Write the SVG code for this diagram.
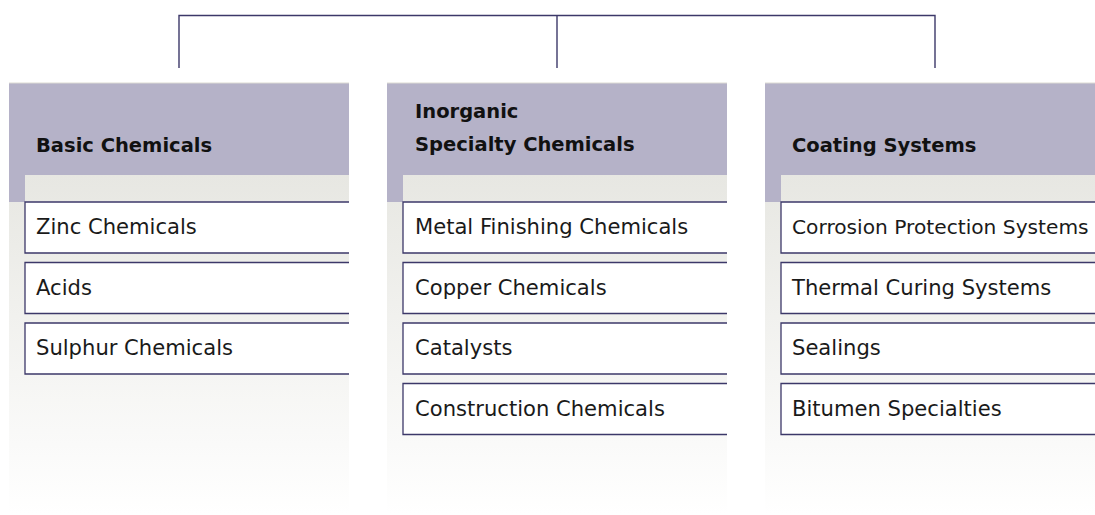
<svg xmlns="http://www.w3.org/2000/svg" width="1095" height="515" viewBox="0 0 1095 515">
<defs>
<linearGradient id="bg" gradientUnits="userSpaceOnUse" x1="0" y1="175" x2="0" y2="515">
<stop offset="0" stop-color="#e7e7e2"/>
<stop offset="1" stop-color="#ffffff"/>
</linearGradient>
<style>
.hdr{fill:#b5b2c8}
.col{fill:url(#bg)}
.box{fill:#ffffff}
.bd{fill:none;stroke:#3c3869;stroke-width:1.3}
.conn{fill:none;stroke:#3c3869;stroke-width:1.4}
.ht{font-family:"DejaVu Sans",sans-serif;font-weight:bold;font-size:19.5px;fill:#111}
.it{font-family:"DejaVu Sans",sans-serif;font-size:21.1px;fill:#1a1a1a}
.fit{font-size:20.2px}
.topline{stroke:#dcdad3;stroke-width:1}
</style>
</defs>
<rect width="1095" height="515" fill="#ffffff"/>
<g id="connectors">
<path class="conn" d="M179,68 V15.5 H935 V68"/>
<path class="conn" d="M557,15.5 V68"/>
</g>
<g id="col1">
<rect class="col" x="9" y="175" width="340" height="340"/>
<rect class="hdr" x="9" y="83" width="340" height="92"/>
<rect class="hdr" x="9" y="175" width="16" height="27"/>
<line class="topline" x1="9" y1="83" x2="349" y2="83"/>
<text class="ht" x="36" y="152">Basic Chemicals</text>
<g id="c1i1"><rect class="box" x="25" y="202" width="324" height="51"/><path class="bd" d="M349,202 H25 V253 H349"/><text class="it" x="36" y="234">Zinc Chemicals</text></g>
<g id="c1i2"><rect class="box" x="25" y="262.5" width="324" height="51"/><path class="bd" d="M349,262.5 H25 V313.5 H349"/><text class="it" x="36" y="294.5">Acids</text></g>
<g id="c1i3"><rect class="box" x="25" y="323" width="324" height="51"/><path class="bd" d="M349,323 H25 V374 H349"/><text class="it" x="36" y="355">Sulphur Chemicals</text></g>
</g>
<g id="col2">
<rect class="col" x="387" y="175" width="340" height="340"/>
<rect class="hdr" x="387" y="83" width="340" height="92"/>
<rect class="hdr" x="387" y="175" width="16" height="27"/>
<line class="topline" x1="387" y1="83" x2="727" y2="83"/>
<text class="ht" x="415" y="118">Inorganic</text>
<text class="ht" x="415" y="151">Specialty Chemicals</text>
<g id="c2i1"><rect class="box" x="403" y="202" width="324" height="51"/><path class="bd" d="M727,202 H403 V253 H727"/><text class="it" x="415" y="234">Metal Finishing Chemicals</text></g>
<g id="c2i2"><rect class="box" x="403" y="262.5" width="324" height="51"/><path class="bd" d="M727,262.5 H403 V313.5 H727"/><text class="it" x="415" y="294.5">Copper Chemicals</text></g>
<g id="c2i3"><rect class="box" x="403" y="323" width="324" height="51"/><path class="bd" d="M727,323 H403 V374 H727"/><text class="it" x="415" y="355">Catalysts</text></g>
<g id="c2i4"><rect class="box" x="403" y="383.5" width="324" height="51"/><path class="bd" d="M727,383.5 H403 V434.5 H727"/><text class="it" x="415" y="415.5">Construction Chemicals</text></g>
</g>
<g id="col3">
<rect class="col" x="765" y="175" width="330" height="340"/>
<rect class="hdr" x="765" y="83" width="330" height="92"/>
<rect class="hdr" x="765" y="175" width="16" height="27"/>
<line class="topline" x1="765" y1="83" x2="1095" y2="83"/>
<text class="ht" x="792" y="152">Coating Systems</text>
<g id="c3i1"><rect class="box" x="781" y="202" width="314" height="51"/><path class="bd" d="M1095,202 H781 V253 H1095"/><text class="it fit" x="792" y="234">Corrosion Protection Systems</text></g>
<g id="c3i2"><rect class="box" x="781" y="262.5" width="314" height="51"/><path class="bd" d="M1095,262.5 H781 V313.5 H1095"/><text class="it" x="792" y="294.5">Thermal Curing Systems</text></g>
<g id="c3i3"><rect class="box" x="781" y="323" width="314" height="51"/><path class="bd" d="M1095,323 H781 V374 H1095"/><text class="it" x="792" y="355">Sealings</text></g>
<g id="c3i4"><rect class="box" x="781" y="383.5" width="314" height="51"/><path class="bd" d="M1095,383.5 H781 V434.5 H1095"/><text class="it" x="792" y="415.5">Bitumen Specialties</text></g>
</g>
</svg>
